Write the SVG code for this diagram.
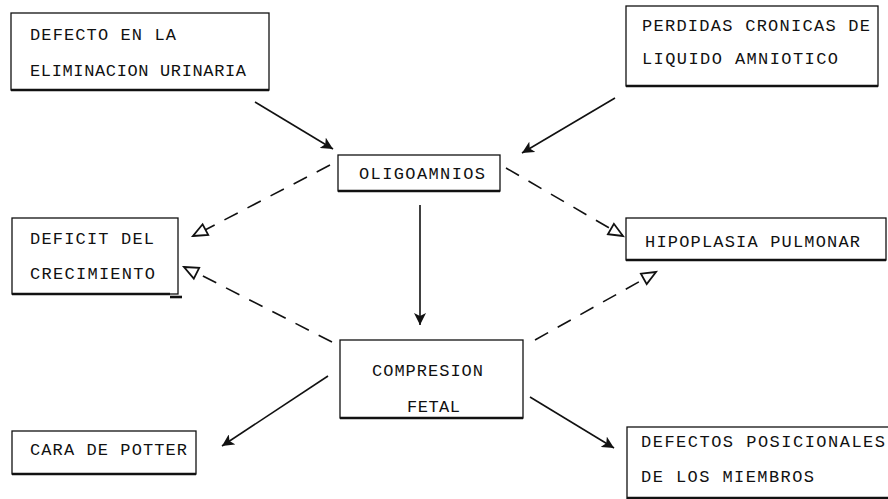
<svg xmlns="http://www.w3.org/2000/svg" width="888" height="499" viewBox="0 0 888 499">
<style>
.box{fill:none;stroke:#111;stroke-width:1.3}
.bot{stroke:#111;stroke-width:2.6}
.t{font-family:"Liberation Mono","Courier New",monospace;font-size:17px;fill:#111}
.s{fill:none;stroke:#111;stroke-width:1.6}
.d{fill:none;stroke:#111;stroke-width:1.6;stroke-dasharray:15 11}
.oh{fill:#fff;stroke:#111;stroke-width:1.8;stroke-linejoin:miter}
</style>
<defs>
<marker id="fa" markerUnits="userSpaceOnUse" markerWidth="14" markerHeight="12" refX="12" refY="6" orient="auto">
<path d="M0,0 L12,6 L0,12 L3,6 z" fill="#111"/>
</marker>
</defs>
<rect width="888" height="499" fill="#fff"/>
<g id="connectors">
<line class="s" x1="255" y1="102" x2="333" y2="149" marker-end="url(#fa)"/>
<line class="s" x1="615" y1="98" x2="522" y2="153" marker-end="url(#fa)"/>
<line class="d" x1="330" y1="165" x2="205" y2="230"/>
<polygon class="oh" points="193,236 208.2,234.9 202.6,224.3"/>
<line class="d" x1="506" y1="168" x2="611" y2="229"/>
<polygon class="oh" points="623,236 607.9,234.2 613.9,223.8"/>
<line class="s" x1="420" y1="205" x2="420" y2="325" marker-end="url(#fa)"/>
<line class="d" x1="332" y1="342" x2="197" y2="273"/>
<polygon class="oh" points="184,267 199.2,267.9 193.8,278.7"/>
<line class="d" x1="535" y1="340" x2="644" y2="279"/>
<polygon class="oh" points="656,272 646.7,284.1 640.9,273.7"/>
<line class="s" x1="328" y1="376" x2="222" y2="446" marker-end="url(#fa)"/>
<line class="s" x1="530" y1="397" x2="614" y2="448" marker-end="url(#fa)"/>
</g>
<g id="defecto-eliminacion">
<rect class="box" x="11" y="13" width="258" height="77"/>
<line class="bot" x1="11" y1="90" x2="269" y2="90"/>
<text class="t" x="30" y="40" textLength="146" lengthAdjust="spacing">DEFECTO EN LA</text>
<text class="t" x="30" y="76" textLength="216" lengthAdjust="spacing">ELIMINACION URINARIA</text>
</g>
<g id="perdidas">
<rect class="box" x="626" y="6" width="252" height="80"/>
<line class="bot" x1="626" y1="86" x2="878" y2="86"/>
<text class="t" x="642" y="31" textLength="228" lengthAdjust="spacing">PERDIDAS CRONICAS DE</text>
<text class="t" x="642" y="64" textLength="196" lengthAdjust="spacing">LIQUIDO AMNIOTICO</text>
</g>
<g id="oligoamnios">
<rect class="box" x="338" y="155" width="162" height="36"/>
<line class="bot" x1="338" y1="191" x2="500" y2="191"/>
<text class="t" x="359" y="179" textLength="126" lengthAdjust="spacing">OLIGOAMNIOS</text>
</g>
<g id="deficit">
<rect class="box" x="12" y="218" width="166" height="76"/>
<line class="bot" x1="12" y1="294" x2="170" y2="294"/>
<line class="bot" x1="170" y1="297" x2="182" y2="297"/>
<text class="t" x="30" y="244" textLength="124" lengthAdjust="spacing">DEFICIT DEL</text>
<text class="t" x="30" y="279" textLength="125" lengthAdjust="spacing">CRECIMIENTO</text>
</g>
<g id="hipoplasia">
<rect class="box" x="626" y="218" width="260" height="42"/>
<line class="bot" x1="626" y1="260" x2="886" y2="260"/>
<text class="t" x="645" y="247" textLength="215" lengthAdjust="spacing">HIPOPLASIA PULMONAR</text>
</g>
<g id="compresion">
<rect class="box" x="340" y="340" width="183" height="78"/>
<line class="bot" x1="340" y1="418" x2="523" y2="418"/>
<text class="t" x="372" y="376" textLength="111" lengthAdjust="spacing">COMPRESION</text>
<text class="t" x="407" y="412" textLength="53" lengthAdjust="spacing">FETAL</text>
</g>
<g id="cara-potter">
<rect class="box" x="12" y="431" width="184" height="43"/>
<line class="bot" x1="12" y1="474" x2="196" y2="474"/>
<text class="t" x="30" y="455" textLength="157" lengthAdjust="spacing">CARA DE POTTER</text>
</g>
<g id="defectos-posicionales">
<rect class="box" x="627" y="427" width="263" height="72"/>
<line class="bot" x1="627" y1="498" x2="888" y2="498"/>
<text class="t" x="641" y="447" textLength="244" lengthAdjust="spacing">DEFECTOS POSICIONALES</text>
<text class="t" x="641" y="482" textLength="173" lengthAdjust="spacing">DE LOS MIEMBROS</text>
</g>
</svg>
